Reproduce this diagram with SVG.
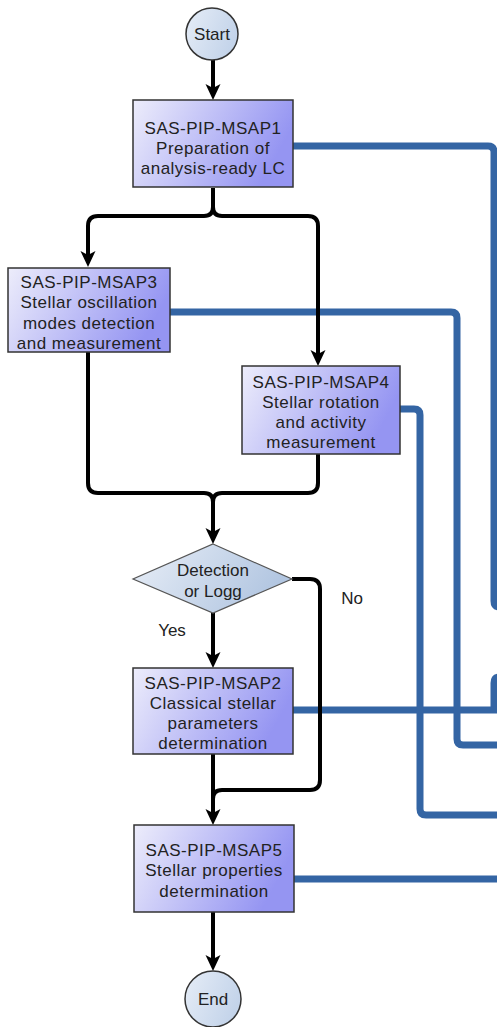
<svg xmlns="http://www.w3.org/2000/svg" width="497" height="1027" viewBox="0 0 497 1027">
  <defs>
    <linearGradient id="boxFill" x1="0" y1="0" x2="1" y2="0.3">
      <stop offset="0" stop-color="#ededfb"/>
      <stop offset="1" stop-color="#9595f2"/>
    </linearGradient>
    <linearGradient id="termFill" x1="0" y1="0" x2="1" y2="0.4">
      <stop offset="0" stop-color="#e6edf7"/>
      <stop offset="1" stop-color="#c4d4ea"/>
    </linearGradient>
    <linearGradient id="decFill" x1="0" y1="0" x2="1" y2="0.3">
      <stop offset="0" stop-color="#e8eef7"/>
      <stop offset="1" stop-color="#b2c6e1"/>
    </linearGradient>
    <marker id="arrow" viewBox="0 0 16 16" markerWidth="16" markerHeight="16" refX="8" refY="8" orient="auto" markerUnits="userSpaceOnUse">
      <path d="M0,0.5 L16,8 L0,15.5 L4,8 z" fill="#000"/>
    </marker>
    <style>
      .box { fill: url(#boxFill); stroke: #333; stroke-width: 1.5; }
      .term { fill: url(#termFill); stroke: #333; stroke-width: 1.5; }
      .dec { fill: url(#decFill); stroke: #555; stroke-width: 1.2; }
      .lbl { font-family: "Liberation Sans", Arial, sans-serif; font-size: 17px; fill: #222; text-anchor: middle; letter-spacing: 0.5px; }
      .note { font-family: "Liberation Sans", Arial, sans-serif; font-size: 17px; fill: #222; text-anchor: middle; }
      .flow { fill: none; stroke: #000; stroke-width: 4; stroke-linejoin: round; }
      .flow.arr { marker-end: url(#arrow); }
      .link { fill: none; stroke: #3465a4; stroke-width: 7; stroke-linejoin: round; }
    </style>
  </defs>

  <!-- data links to the right-hand side -->
  <g id="links">
    <path class="link" d="M293,146 L488,146 Q494,146 494,152 L494,601 Q494,607 500,607"/>
    <path class="link" d="M500,677 Q494,677 494,683 L494,710"/>
    <path class="link" d="M293,710 L497,710"/>
    <path class="link" d="M170,312 L451,312 Q457,312 457,318 L457,739 Q457,745 463,745 L497,745"/>
    <path class="link" d="M400,409 L414,409 Q420,409 420,415 L420,809 Q420,815 426,815 L497,815"/>
    <path class="link" d="M294,879 L497,879"/>
  </g>

  <!-- control flow -->
  <g id="connectors">
    <path class="flow arr" d="M213,60 L213,92"/>
    <path class="flow arr" d="M213,188 L213,207 Q213,216 204,216 L98,216 Q88,216 88,226 L88,259"/>
    <path class="flow arr" d="M213,207 Q213,216 222,216 L308,216 Q318,216 318,226 L318,358"/>
    <path class="flow" d="M88,352 L88,483 Q88,493 98,493 L204,493 Q213,493 213,502"/>
    <path class="flow arr" d="M318,454 L318,483 Q318,493 308,493 L222,493 Q213,493 213,502 L213,536"/>
    <path class="flow arr" d="M213,613 L213,660"/>
    <path class="flow" d="M292,579 L310,579 Q320,579 320,589 L320,780 Q320,790 310,790 L222,790 Q213,790 213,799"/>
    <path class="flow arr" d="M213,754 L213,817"/>
    <path class="flow arr" d="M213,912 L213,963"/>
  </g>

  <g id="start">
    <circle class="term" cx="212" cy="34" r="26"/>
    <text class="note" x="212" y="40">Start</text>
  </g>

  <g id="msap1">
    <rect class="box" x="133" y="100" width="160" height="87"/>
    <text class="lbl" x="213" y="134">SAS-PIP-MSAP1</text>
    <text class="lbl" x="213" y="154">Preparation of</text>
    <text class="lbl" x="213" y="174">analysis-ready LC</text>
  </g>

  <g id="msap3">
    <rect class="box" x="8" y="268" width="162" height="84"/>
    <text class="lbl" x="89" y="288">SAS-PIP-MSAP3</text>
    <text class="lbl" x="89" y="308">Stellar oscillation</text>
    <text class="lbl" x="89" y="329">modes detection</text>
    <text class="lbl" x="89" y="349">and measurement</text>
  </g>

  <g id="msap4">
    <rect class="box" x="242" y="366" width="158" height="88"/>
    <text class="lbl" x="321" y="388">SAS-PIP-MSAP4</text>
    <text class="lbl" x="321" y="408">Stellar rotation</text>
    <text class="lbl" x="321" y="428">and activity</text>
    <text class="lbl" x="321" y="448">measurement</text>
  </g>

  <g id="decision">
    <polygon class="dec" points="213,544 292,579 213,613 133,579"/>
    <text class="note" x="213" y="576">Detection</text>
    <text class="note" x="213" y="597">or Logg</text>
    <text class="note" x="172" y="636">Yes</text>
    <text class="note" x="352" y="604">No</text>
  </g>

  <g id="msap2">
    <rect class="box" x="133" y="668" width="160" height="86"/>
    <text class="lbl" x="213" y="689">SAS-PIP-MSAP2</text>
    <text class="lbl" x="213" y="709">Classical stellar</text>
    <text class="lbl" x="213" y="729">parameters</text>
    <text class="lbl" x="213" y="749">determination</text>
  </g>

  <g id="msap5">
    <rect class="box" x="134" y="825" width="160" height="87"/>
    <text class="lbl" x="214" y="856">SAS-PIP-MSAP5</text>
    <text class="lbl" x="214" y="876">Stellar properties</text>
    <text class="lbl" x="214" y="897">determination</text>
  </g>

  <g id="end">
    <circle class="term" cx="213" cy="999" r="28"/>
    <text class="note" x="213" y="1005">End</text>
  </g>
</svg>
